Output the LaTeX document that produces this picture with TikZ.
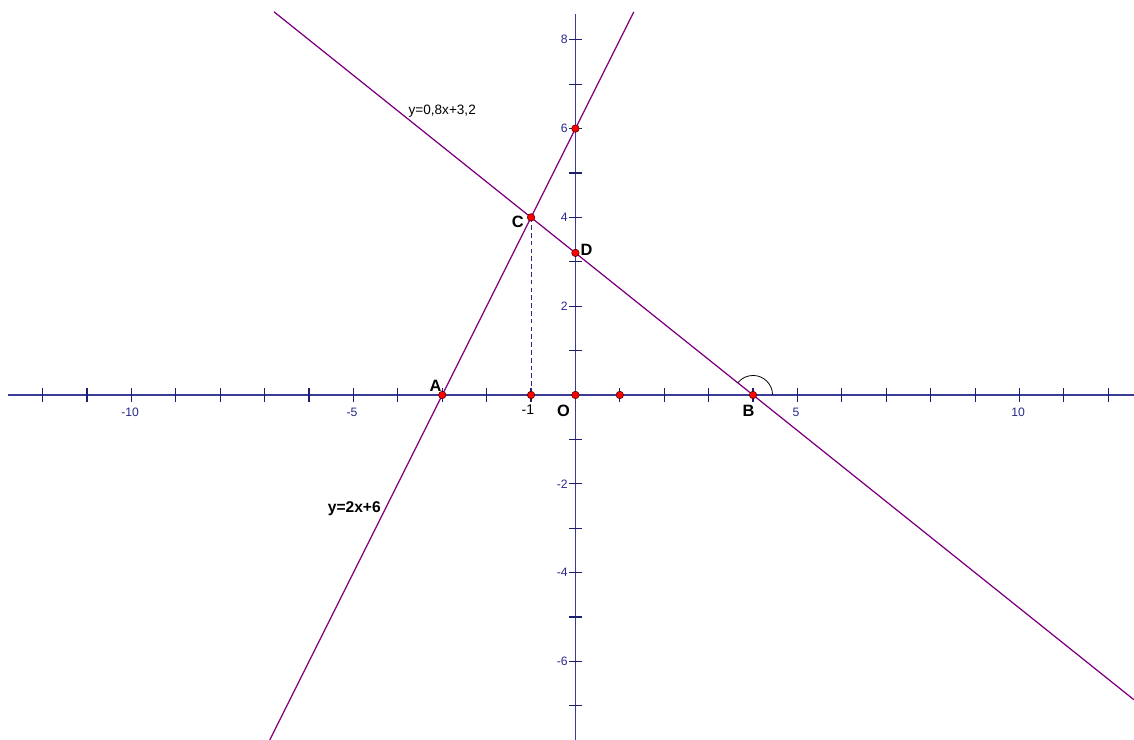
\documentclass[tikz,border=0pt]{standalone}
\usepackage{fontspec}
\setmainfont{Liberation Sans}
\definecolor{axisblue}{RGB}{60,60,150}
\definecolor{tickblue}{RGB}{30,30,110}
\definecolor{lblue}{RGB}{40,40,140}
\definecolor{gline}{RGB}{128,0,128}
\tikzset{
  axisline/.style={axisblue,line width=0.9pt},
  tickmark/.style={tickblue,line width=0.7pt},
  graphline/.style={gline,line width=0.8pt},
  numlbl/.style={lblue,font=\fontsize{7.8}{8}\selectfont,inner sep=0pt},
  ptlbl/.style={black,font=\bfseries\fontsize{10.5}{12}\selectfont,inner sep=0pt},
  pt/.style={circle,fill=red,draw=black!70!red,line width=0.35pt,inner sep=0pt,minimum size=4.8pt},
}
\begin{document}
\begin{tikzpicture}[x=1cm,y=1cm]
\useasboundingbox (-12.96,-7.77) rectangle (12.58,8.896);
% axes
\coordinate (xl) at (-12.78,0);
\coordinate (xr) at (12.58,0);
\coordinate (yb) at (0,-7.77);
\coordinate (yt) at (0,8.58);
\draw[axisline] (xl) -- (xr);
\draw[axisline] (yb) -- (yt);
% ticks
\foreach \i in {-12,...,12} {\ifnum\i=0\else \draw[tickmark] (\i,-0.16) -- (\i,0.16);\fi}
\foreach \j in {-7,...,8} {\ifnum\j=0\else \draw[tickmark] (-0.14,\j) -- (0.14,\j);\fi}
% axis numbers
\foreach \i in {-10,-5,5,10} \node[numlbl] (xn\i) at (\i-0.03,-0.39) {\i};
\foreach \j in {8,6,4,2,-2,-4,-6} \node[numlbl,anchor=east] (yn\j) at (-0.17,\j) {\j};
% graph lines
\coordinate (l1a) at (-6.885,-7.77);
\coordinate (l1b) at (1.315,8.63);
\coordinate (l2a) at (-6.79,8.63);
\coordinate (l2b) at (12.58,-6.864);
\draw[graphline] (l1a) -- (l1b);
\draw[graphline] (l2a) -- (l2b);
% angle arc at B
\coordinate (Barc) at (4.44,0);
\draw[black,line width=0.5pt] (Barc) arc[start angle=0,end angle=141.34,radius=0.44];
% dashed
\coordinate (Cc) at (-1,4);
\coordinate (Mc) at (-1,0);
\draw[lblue,line width=0.5pt,dash pattern=on 3pt off 2pt] (Cc) -- (Mc);
% points
\node[pt] (A) at (-3,0) {};
\node[pt] (B) at (4,0) {};
\node[pt] (C) at (-1,4) {};
\node[pt] (D) at (0,3.2) {};
\node[pt] (E) at (0,6) {};
\node[pt] (O) at (0,0) {};
\node[pt] (M) at (-1,0) {};
\node[pt] (N) at (1,0) {};
% labels
\node[ptlbl] (lA) at (-3.15,0.2) {A};
\node[ptlbl] (lB) at (3.9,-0.36) {B};
\node[ptlbl] (lC) at (-1.3,3.9) {C};
\node[ptlbl] (lD) at (0.25,3.27) {D};
\node[ptlbl] (lO) at (-0.27,-0.35) {O};
\node[numlbl,black,font=\fontsize{9}{10}\selectfont] (lm1) at (-1.07,-0.33) {-1};
\node[black,font=\fontsize{8.7}{10}\selectfont,inner sep=0pt] (eq2) at (-3.0,6.4) {y=0,8x+3,2};
\node[black,font=\bfseries\fontsize{10}{11}\selectfont,inner sep=0pt] (eq1) at (-4.98,-2.57) {y=2x+6};
\end{tikzpicture}
\end{document}
